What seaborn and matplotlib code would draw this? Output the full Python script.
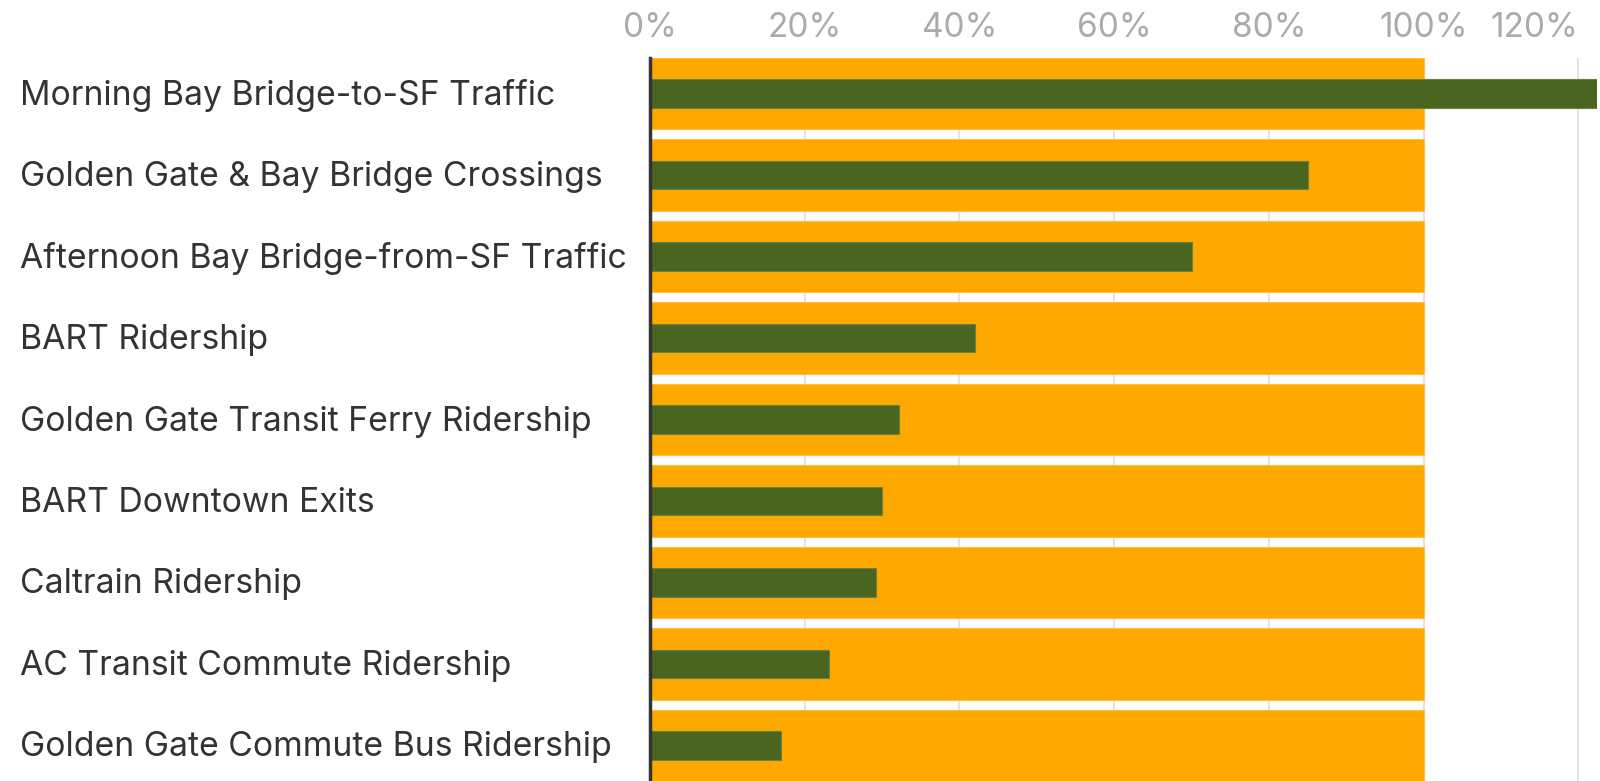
import matplotlib
matplotlib.use("Agg")
import matplotlib.pyplot as plt
import matplotlib.transforms as mtransforms
import seaborn as sns
import pandas as pd

categories = [
    "Morning Bay Bridge-to-SF Traffic",
    "Golden Gate & Bay Bridge Crossings",
    "Afternoon Bay Bridge-from-SF Traffic",
    "BART Ridership",
    "Golden Gate Transit Ferry Ridership",
    "BART Downtown Exits",
    "Caltrain Ridership",
    "AC Transit Commute Ridership",
    "Golden Gate Commute Bus Ridership",
]
baseline = [100, 100, 100, 100, 100, 100, 100, 100, 100]
current = [122.5, 85, 70, 42, 32.2, 30, 29.2, 23.2, 16.9]
xticks = [0, 20, 40, 60, 80, 100, 120]
xtick_labels = ["0%", "20%", "40%", "60%", "80%", "100%", "120%"]

df = pd.DataFrame({"category": categories, "baseline": baseline, "current": current})

sns.set_theme(style="white")
plt.rcParams["font.family"] = ["Inter", "DejaVu Sans"]

fig = plt.figure(figsize=(16, 7.81), dpi=100)
ax = fig.add_axes([650 / 1600, 0.0, (1597 - 650) / 1600, 1 - 58 / 781])

sns.barplot(data=df, x="baseline", y="category", orient="h", color="#FFA800",
            width=0.875, saturation=1, ax=ax, zorder=2, edgecolor="#FFC040", linewidth=0.8)
sns.barplot(data=df, x="current", y="category", orient="h", color="#4A6520",
            width=0.35, saturation=1, ax=ax, zorder=3, edgecolor="#6B8040", linewidth=0.8)

ax.set_xlim(0, 122.4)
ax.set_ylim(8.4375, -0.4375)
ax.set_xticks(xticks)
ax.set_xticklabels(xtick_labels)
ax.xaxis.tick_top()
ax.tick_params(axis="x", length=0, pad=10, labelsize=24, labelcolor="#ABABAB")
ax.tick_params(axis="y", length=0, pad=(650 - 20) * 0.72, labelsize=24.3, labelcolor="#333333")
offset = mtransforms.ScaledTranslation(0, -2 / 100, fig.dpi_scale_trans)
for lab in ax.get_yticklabels():
    lab.set_horizontalalignment("left")
    lab.set_verticalalignment("center")
    lab.set_transform(lab.get_transform() + offset)
xl = ax.get_xticklabels()
xl[-1].set_horizontalalignment("right")
ax.set_xlabel("")
ax.set_ylabel("")
ax.grid(axis="x", color="#E4E4E4", linewidth=1.5, zorder=0)
ax.set_axisbelow(True)
for s in ["top", "right", "bottom"]:
    ax.spines[s].set_visible(False)
ax.spines["left"].set_color("#333333")
ax.spines["left"].set_linewidth(2.5)
ax.spines["left"].set_zorder(5)

fig.savefig("out.png", dpi=100)
